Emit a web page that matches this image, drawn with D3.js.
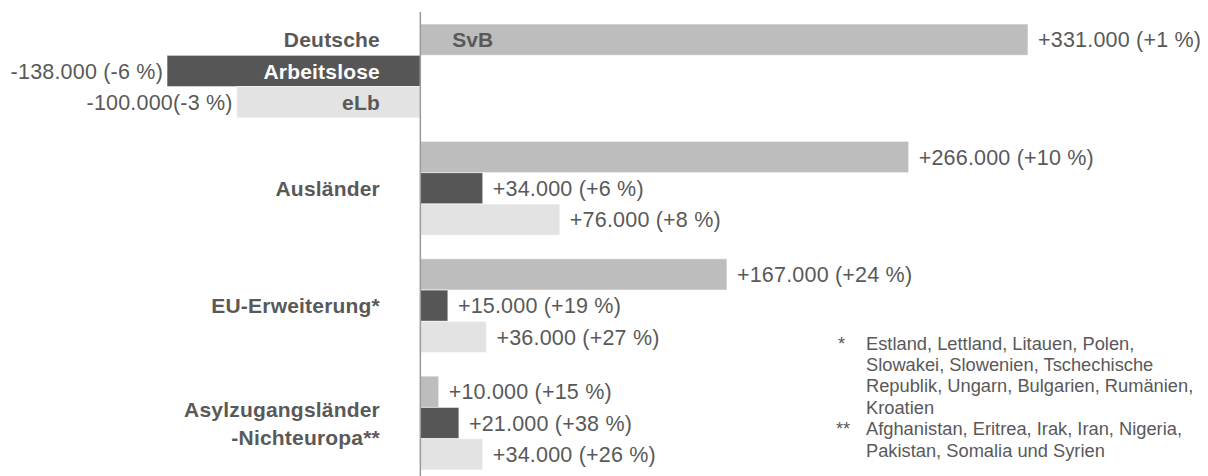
<!DOCTYPE html>
<html>
<head>
<meta charset="utf-8">
<script src="https://cdn.jsdelivr.net/npm/d3@7"></script>
<style>
  html, body { margin: 0; padding: 0; background: #fff; }
  svg { display: block; font-family: "Liberation Sans", Arial, sans-serif; }
</style>
</head>
<body>
<svg id="chart" width="1208" height="476"></svg>
<script>
// ---- data ----
const categories = ["Deutsche", "Ausländer", "EU-Erweiterung*", "Asylzugangsländer|-Nichteuropa**"];
const seriesNames = ["SvB", "Arbeitslose", "eLb"];
const svbValues = [331, 266, 167, 10];
const arbeitsloseValues = [-138, 34, 15, 21];
const elbValues = [-100, 76, 36, 34];
const svbLabels = ["+331.000 (+1 %)", "+266.000 (+10 %)", "+167.000 (+24 %)", "+10.000 (+15 %)"];
const arbeitsloseLabels = ["-138.000 (-6 %)", "+34.000 (+6 %)", "+15.000 (+19 %)", "+21.000 (+38 %)"];
const elbLabels = ["-100.000(-3 %)", "+76.000 (+8 %)", "+36.000 (+27 %)", "+34.000 (+26 %)"];
const footnote1 = ["Estland, Lettland, Litauen, Polen,", "Slowakei, Slowenien, Tschechische", "Republik, Ungarn, Bulgarien, Rumänien,", "Kroatien"];
const footnote2 = ["Afghanistan, Eritrea, Irak, Iran, Nigeria,", "Pakistan, Somalia und Syrien"];

// ---- build table ----
const valuesBySeries = [svbValues, arbeitsloseValues, elbValues];
const labelsBySeries = [svbLabels, arbeitsloseLabels, elbLabels];
const rows = [];
categories.forEach((c, gi) => {
  seriesNames.forEach((s, si) => {
    rows.push({ cat: c, gi, series: s, si, value: valuesBySeries[si][gi], label: labelsBySeries[si][gi] });
  });
});

const colors = { "SvB": "#bdbdbd", "Arbeitslose": "#565656", "eLb": "#e3e3e3" };
const textColor = "#595959";

const svg = d3.select("#chart");

const x = d3.scaleLinear().domain([-138, 331]).range([167, 1028]);
const y0 = d3.scaleBand().domain(categories).range([24, 470]).paddingInner(0.2).paddingOuter(0);
const y1 = d3.scaleBand().domain(seriesNames).range([0, y0.bandwidth()]).padding(0);

// bars
svg.append("g").selectAll("rect").data(rows).join("rect")
  .attr("x", d => x(Math.min(0, d.value)))
  .attr("width", d => Math.abs(x(d.value) - x(0)))
  .attr("y", d => y0(d.cat) + y1(d.series))
  .attr("height", y1.bandwidth())
  .attr("fill", d => colors[d.series])
  .attr("stroke", "#ffffff")
  .attr("stroke-opacity", 0.6)
  .attr("stroke-width", 1);

// zero axis line
svg.append("line")
  .attr("x1", x(0)).attr("x2", x(0))
  .attr("y1", 12).attr("y2", 476)
  .attr("stroke", "#9a9a9a").attr("stroke-width", 1.5);

// value labels
svg.append("g").selectAll("text").data(rows).join("text")
  .attr("x", d => d.value >= 0 ? x(d.value) + 10 : x(d.value) - 4)
  .attr("y", d => y0(d.cat) + y1(d.series) + y1.bandwidth() / 2)
  .attr("dy", "0.36em")
  .attr("text-anchor", d => d.value >= 0 ? "start" : "end")
  .attr("fill", textColor)
  .style("font-size", "21.5px")
  .style("letter-spacing", "0.2px")
  .text(d => d.label);

// category labels
const catG = svg.append("g");
categories.forEach((c, gi) => {
  const lines = c.split("|");
  const barIndex = gi === 0 ? 0 : 1;
  const cy = y0(c) + y1(seriesNames[barIndex]) + y1.bandwidth() / 2;
  const lh = 28;
  lines.forEach((ln, li) => {
    catG.append("text")
      .attr("x", 380)
      .attr("y", cy + (li - (lines.length - 1) / 2) * lh)
      .attr("dy", "0.36em")
      .attr("text-anchor", "end")
      .attr("fill", textColor)
      .style("font-size", "21px")
      .style("font-weight", "bold")
      .style("letter-spacing", "0.2px")
      .text(ln);
  });
});

// series name labels inside the first group's bars
const first = categories[0];
svg.append("text")
  .attr("x", x(0) + 32)
  .attr("y", y0(first) + y1("SvB") + y1.bandwidth() / 2)
  .attr("dy", "0.36em")
  .attr("fill", textColor)
  .style("font-size", "21px").style("font-weight", "bold")
  .text("SvB");
svg.append("text")
  .attr("x", 380)
  .attr("y", y0(first) + y1("Arbeitslose") + y1.bandwidth() / 2)
  .attr("dy", "0.36em")
  .attr("text-anchor", "end")
  .attr("fill", "#ffffff")
  .style("font-size", "21px").style("font-weight", "bold")
  .style("letter-spacing", "0.2px")
  .text("Arbeitslose");
svg.append("text")
  .attr("x", 380)
  .attr("y", y0(first) + y1("eLb") + y1.bandwidth() / 2)
  .attr("dy", "0.36em")
  .attr("text-anchor", "end")
  .attr("fill", textColor)
  .style("font-size", "21px").style("font-weight", "bold")
  .style("letter-spacing", "0.2px")
  .text("eLb");

// footnotes
const fn = svg.append("g").attr("fill", textColor).style("font-size", "18.3px");
const fnLH = 21.4;
let fy = 343;
fn.append("text").attr("x", 838).attr("y", fy).attr("dy", "0.36em").text("*");
footnote1.forEach((t, i) => {
  fn.append("text").attr("x", 866).attr("y", fy + i * fnLH).attr("dy", "0.36em").text(t);
});
fy = fy + footnote1.length * fnLH;
fn.append("text").attr("x", 836).attr("y", fy).attr("dy", "0.36em").text("**");
footnote2.forEach((t, i) => {
  fn.append("text").attr("x", 866).attr("y", fy + i * fnLH).attr("dy", "0.36em").text(t);
});
</script>
</body>
</html>
